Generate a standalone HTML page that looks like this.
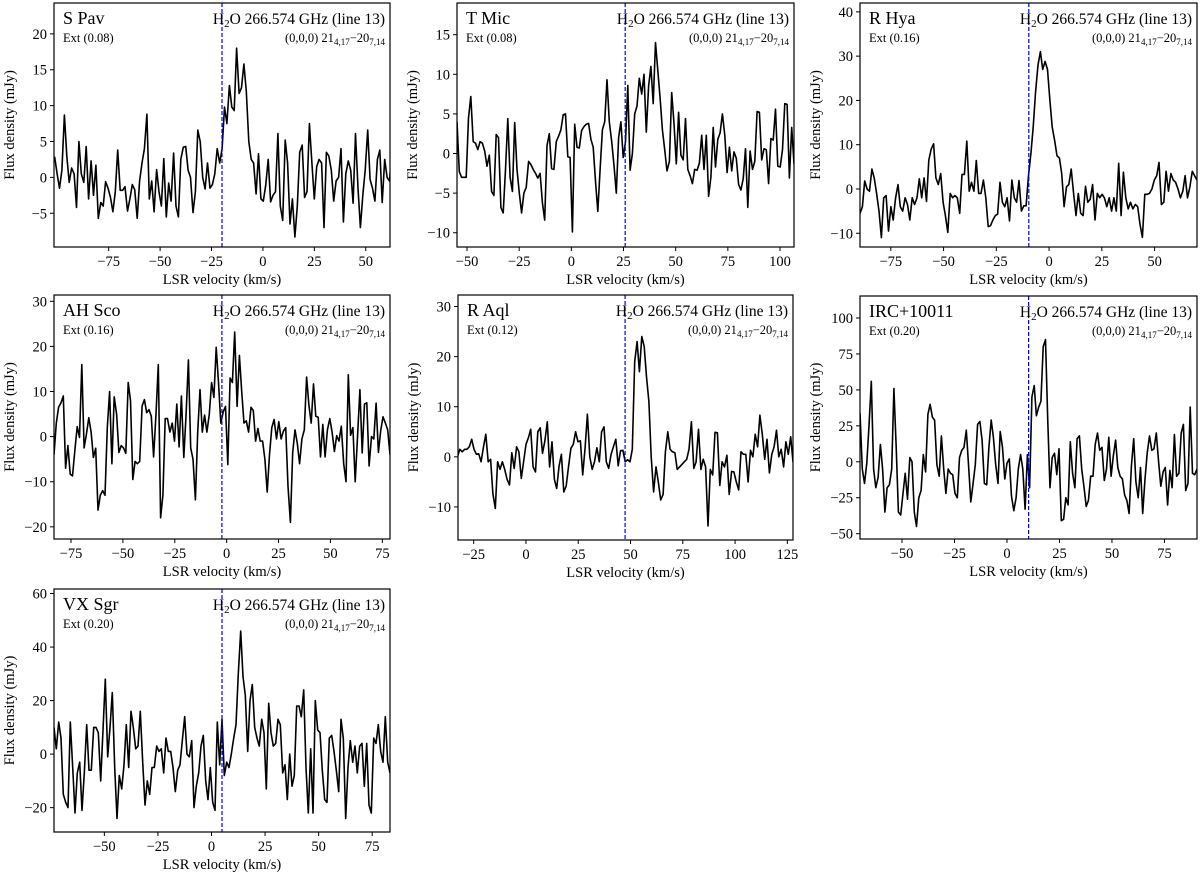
<!DOCTYPE html>
<html><head><meta charset="utf-8">
<style>
html,body{margin:0;padding:0;background:#fff;}
svg{display:block;font-family:"Liberation Serif","DejaVu Serif",serif;}
</style></head>
<body>
<svg id="fig" width="1200" height="874" viewBox="0 0 1200 874" xmlns="http://www.w3.org/2000/svg"></svg>
<script>
const names = ["S Pav","T Mic","R Hya","AH Sco","R Aql","IRC+10011","VX Sgr"];
const exts = ["Ext (0.08)","Ext (0.08)","Ext (0.16)","Ext (0.16)","Ext (0.12)","Ext (0.20)","Ext (0.20)"];
const xRanges = [[-101.6,61.8],[-54.8,106.7],[-89.6,70.1],[-83.2,78.7],[-32.5,127.7],[-70,90.5],[-73.5,83.3]];
const yRanges = [[-9.7,24.3],[-11.8,19],[-13.1,42],[-22.7,31.4],[-16.6,32.3],[-53.7,115.3],[-29.1,61.7]];
const vlsr = [-19.9,25.8,-9.6,-2.3,47.4,10.3,4.9];
// channel start velocity and width (km/s); null = spread over axis range
const chanStart = [-106,null,null,null,-38.4,null,null];
const chanStep = [1.18,null,null,null,1.13,null,null];
const xTicks = [[-75,-50,-25,0,25,50],[-50,-25,0,25,50,75,100],[-75,-50,-25,0,25,50],[-75,-50,-25,0,25,50,75],[-25,0,25,50,75,100,125],[-50,-25,0,25,50,75],[-50,-25,0,25,50,75]];
const yTicks = [[-5,0,5,10,15,20],[-10,-5,0,5,10,15],[-10,0,10,20,30,40],[-20,-10,0,10,20,30],[-10,0,10,20,30],[-50,-25,0,25,50,75,100],[-20,0,20,40,60]];
const fluxSPav = [-3,1,2.2,2.5,2.8,0.5,-1.5,1,8.7,3,-0.7,1.3,0.5,-4.2,5,0.5,-0.7,4.3,-3,2.3,-2.5,1.7,-5.7,-3.5,-4,-0.6,-1.5,-2.8,-4.8,-2,3.8,-1.8,-1.8,-1.3,-4.7,-3,-1,-1.7,-5.7,-0.5,2,4,8.8,-3,-0.5,-4.8,1.1,-2,-4,2.6,-5.5,-0.8,-3.3,3.4,-4,-5.5,2.5,4.2,4.3,1,0,-4.9,-2,6.6,5,0,-1.6,2,-1.5,-1,0.5,4,2,4,9.8,7.5,12.8,9.8,9.3,18,11.7,12.5,15.8,12,5,2.5,2,-2.3,3.3,-3,-3.3,-1,2.5,-3.4,-2.5,-2,6.1,-4,-6,5.2,2,-6.5,-3,-8.3,-4,3.5,4.5,-2.8,-2,7.5,2,-3,1.5,2.5,2,-7,3.5,3,1,-3.3,-0.5,0,4,-6.2,0.5,2.3,1,-3.6,6.1,-1.5,-7,-2.5,1,6.6,-0.3,-1.5,-3.3,2.5,3.8,-3.5,2.5,0,-0.5,4];
const fluxTMic = [4,-2.3,-3,-3,-3,4.5,7.2,1.5,1.3,0.5,1.5,1.3,0.3,-1.6,-0.2,-4.8,-5.3,2.4,2,-6.8,-7.5,-2,4.4,-3,-4.8,3.9,-2,-5,-7.5,-5,-4.3,-1,-1.4,-2,-2.5,-3.1,-2.5,-6.2,-8.4,1,2.5,-1.9,-2,1.5,2.2,3,4.9,5,-0.4,-0.5,-9.9,3.7,0.8,0.7,2.9,3.4,3.7,3.8,1.8,0.8,-3.5,-7.3,-2,3,4,9.3,4,1.5,-1.5,-5,2,4,-0.5,1.5,8.6,-2.1,0,5,6,9.5,7.5,10,2.7,8.5,11,6.3,14,10.5,7,3,0.5,-2.2,-1,7.7,3.8,-1.3,5.2,-0.2,-0.8,4.4,-2,-2.8,-3.8,-2,-2.1,-1.2,2.3,-2,2.3,-5.4,-3,3.3,-1.7,1.8,2.6,5,2.3,-2.4,0.8,-2.2,0.2,-0.6,-3.9,-4.6,-3.2,0.6,-6.8,0.3,-2,-1,5.3,5.2,-0.8,0.6,0.5,-3.8,1.9,1.7,5.6,-1.6,-1.7,0.5,6.3,6.2,-3.1,3.3,-1.3];
const fluxRHya = [-5.5,-4,1.8,0,-0.5,4.5,2.5,-1,-5,-11,-2,-1.5,-9.5,-4,-7,-2,1,-4,-5,-2,-3.5,-7,-2,-3.5,-2,2.3,-2,2.5,-2.8,6.5,9,10.2,2.5,1,3.5,-3,-6,-9.8,-1,-2,-1.5,-2,-5.5,3.3,3.3,10.8,-0.5,1.5,-0.5,6.4,-1,-1,2,-2,-8.5,-8.3,-7,-6,-5.7,1.5,-3,-4,-2,-7.2,2,-2,-3,1.9,-5,-3.8,-3.8,3,8,14,22,28,31,27,28.8,27,20,14,11,7.5,7,3.5,-4,0.5,1,4.5,-1,-6,-1,-5.5,-6,0.6,-3,-2.3,1,-7,-1,-2,-1.2,-2,-4,-2,-5,-2,-5,5.8,-6,3.8,-2,-4.5,-3,-4.5,-3.5,-4,-8,-10.9,-1.2,-1.2,-1,0,2,3,6,-3.5,-3,4,-0.5,3.5,2,1.5,0,-2,-0.5,3,-2,0.5,4,3,2];
const fluxAHSco = [-4,3,6.5,7.5,9,-7,-2,-8.3,-8.7,-3,2.2,-0.2,16,-2.5,0.5,4.2,1,-4.6,-2.6,-16.3,-13,-12,-13,2,10,-6,8.8,5,-3.5,-2,-2.5,-3.7,12,8,-9.5,-5.5,-6,-5.5,6.8,8.2,5.3,6,4.5,-4.5,5,16,-18,-13,4,4,1,3,-1,7.2,-2.3,9,-4.6,5,17,-2.5,-5,-14,1,10.4,1,4.8,1,5,12,8.7,19.8,12,3,5.5,6.7,-6.2,13,12,23.2,6.7,18,10,3,3.5,1,6.5,5.8,-1,1.8,-1,-1,-5,-12.3,-4,2,3.8,-0.5,3.3,-0.5,1.2,2,-11,-19,-3.5,1.5,-1.5,-6,-0.5,1.5,13.2,7,3,11.7,4.5,4.3,-4.5,2.7,-4.5,1.5,4,1,-3.3,0.2,-1,2.3,-6,-10,13.7,0.3,2,-10,0.3,10.4,-3.6,7.2,7.5,-6.5,0,-0.5,7.4,-3.5,1.3,4.4,3,1.5,-4];
const fluxRAql = [2.5,1.5,5.8,0,4.8,0,1.5,1,1.5,1.5,2,3.5,1.5,0.5,0.6,-1,2,4.5,-1,-0.5,-7.4,-10.3,-1,-2.5,-1,-2.5,-4.5,-5.6,0.8,-2.3,2,1,-4.3,-1,2.5,3.8,5.5,-2,-3,5,5.8,0.7,3.2,7,-2,3,-4.5,-6.3,-1.8,0.5,-7,-5.8,-2,1.7,2.5,5,3,3.2,-3.6,1.8,8.5,0,-2.5,-1,1.8,-1,5,6,-1,-2.3,0.5,2,3.5,-1.8,1.2,1.3,-1,-0.6,-1,1.5,19,23,17,24,22,16,11,0,-7,-2,-5,-8.6,-7.5,1,5,1.5,1,0.8,-2.5,-2,-1.5,-1,-0.5,1.5,7,-2.3,-1,5.5,-2.5,-0.5,-2,-13.8,-2.5,-3.6,4.9,4.8,-5.7,-1,-2,0.3,-7.5,-2.9,-3,-5,-6.6,1,0.5,0.5,-5,1.3,0,4.5,2,8.3,4.5,-0.5,3.5,-3.2,0.5,2,5.3,0,1.5,-2,3,0.5,4,-1,2];
const fluxIRC = [34,-5,-15,-1,25,56,-5,-18,-11,12,-5,-35,-18,-16,-5,51,10,-35,-37,-22,-8,-26,3,0,-35,-45,-25,-20,5,-7,33,40,31,29,-2,-10,18,-5,-22,-5,-8,-9,-22,-25,3,8,10,22,-3,-28,-15,-2,26,28,15,-15,-16,10,29,17,-2,-15,21,10,-12,-1,2,-24,-34,-25,-5,5,-5,-33,5,-18,45,53,32,38,42,80,85,30,-18,3,6,-9,9,-41,-40,-25,-30,14,-8,-18,16,18,-5,-17,-31,-27,-10,-10,12,20,8,10,-13,-5,17,-10,4,15,-4,-10,-12,-23,-27,-36,-3,16,-14,-25,-4,-36,-12,6,18,8,9,20,0,-17,-7,-4,-30,-6,-18,19,-10,-8,20,26,-20,-15,38,-8,-9,-5];
const fluxVXSgr = [10,2,12,6,-15,-18,-20,12,-5,-22,-7,-3,-21,-7,11,-6,-6,10,10,8,-10,9,28,-1,10,23,-5,-24,-8,-13,-4,11,-5,16,10,2,3,16,-3,-19,-10,-15,-5,-5,3,1,2,-7,6,1,1,-5,-14,-6,-4,5,14,0,-1,5,-20,-12,-7,3,7,-10,-17,-5,-18,-21,12,-4,13,-8,-3,-5,0,6,11,30,46,29,22,1,20,26,10,6,3,13,8,-13,19,8,3,4,13,11,-7,-4,-17,0,-12,-8,18,18,14,24,-5,-22,2,-22,20,9,8,-6,-17,-18,6,7,1,-6,-14,13,6,-24,-5,5,-3,3,-7,3,4,-12,4,-19,-22,6,4,11,1,-3,14,-3,-7];
const fluxes = [fluxSPav,fluxTMic,fluxRHya,fluxAHSco,fluxRAql,fluxIRC,fluxVXSgr];

// layout (pixel boxes) -- not data
const boxes = [[54,3,390,247],[457,3,794,247],[860,3,1197,247],[54,295,390,539],[458,295,793,540],[860,296,1197,539],[54,589,390,832]];

const NS="http://www.w3.org/2000/svg";
const svg=document.getElementById('fig');
function mk(tag,attrs,parent){const e=document.createElementNS(NS,tag);for(const k in attrs)e.setAttribute(k,attrs[k]);(parent||svg).appendChild(e);return e;}
function fmt(v){return v<0?'\u2212'+Math.abs(v):String(v);}

for(let p=0;p<7;p++){
  const [x0,y0,x1,y1]=boxes[p];
  const [xa,xb]=xRanges[p],[ya,yb]=yRanges[p];
  const sx=v=>x0+(v-xa)/(xb-xa)*(x1-x0);
  const sy=v=>y1-(v-ya)/(yb-ya)*(y1-y0);
  const g=mk('g',{});
  
  
  const cid='clip'+p;
  const cp=mk('clipPath',{id:cid},g);
  mk('rect',{x:x0,y:y0,width:x1-x0,height:y1-y0},cp);
  const d=fluxes[p];
  const n=d.length;
  const st0=chanStart[p]!==null?chanStart[p]:xa;
  const stp=chanStep[p]!==null?chanStep[p]:(xb-xa)/(n-1);
  let pts=d.map((v,i)=>{const xv=st0+stp*i;return sx(xv).toFixed(1)+','+sy(v).toFixed(1);}).join(' ');
  const line=mk('polyline',{points:pts,fill:'none',stroke:'#000','stroke-width':1.6,'stroke-linejoin':'round','clip-path':'url(#'+cid+')'},g);
  
  
  const vl=mk('line',{x1:sx(vlsr[p]),x2:sx(vlsr[p]),y1:y0,y2:y1,stroke:'#0000ff','stroke-width':1.2,'stroke-dasharray':'4,2'},g);
  
  
  const fr=mk('rect',{x:x0,y:y0,width:x1-x0,height:y1-y0,fill:'none',stroke:'#000','stroke-width':1.2},g);
  
  
  xTicks[p].forEach(t=>{
    const X=sx(t);
    mk('line',{x1:X,x2:X,y1:y1,y2:y1+4,stroke:'#000','stroke-width':1},g);
    const tx=mk('text',{x:X,y:y1+19,'font-size':14.5,'text-anchor':'middle'},g);
    tx.textContent=fmt(t);
    
    
  });
  yTicks[p].forEach(t=>{
    const Y=sy(t);
    mk('line',{x1:x0-4,x2:x0,y1:Y,y2:Y,stroke:'#000','stroke-width':1},g);
    const tx=mk('text',{x:x0-7,y:Y+5,'font-size':14.5,'text-anchor':'end'},g);
    tx.textContent=fmt(t);
    
    
  });
  const xl=mk('text',{x:(x0+x1)/2,y:y1+37,'font-size':14.5,'text-anchor':'middle'},g);
  xl.textContent='LSR velocity (km/s)';
  
  
  const yl=mk('text',{x:0,y:0,'font-size':14.5,'text-anchor':'middle',transform:'translate('+(x0-40)+','+((y0+y1)/2)+') rotate(-90)'},g);
  yl.textContent='Flux density (mJy)';
  
  
  const nm=mk('text',{x:x0+9,y:y0+21,'font-size':18},g);
  nm.textContent=names[p];
  
  
  const ex=mk('text',{x:x0+9,y:y0+39,'font-size':12.5},g);
  ex.textContent=exts[p];
  
  
  const tt=mk('text',{x:x1-5,y:y0+21,'font-size':15.5,'text-anchor':'end'},g);
  tt.innerHTML='H<tspan font-size="11" dy="3">2</tspan><tspan dy="-3">O 266.574 GHz (line 13)</tspan>';
  
  
  const st=mk('text',{x:x1-5,y:y0+39,'font-size':12.5,'text-anchor':'end'},g);
  st.innerHTML='(0,0,0) 21<tspan font-size="9" dy="3">4,17</tspan><tspan dy="-3">\u221220</tspan><tspan font-size="9" dy="3">7,14</tspan>';
  
  
}
</script>
</body></html>
